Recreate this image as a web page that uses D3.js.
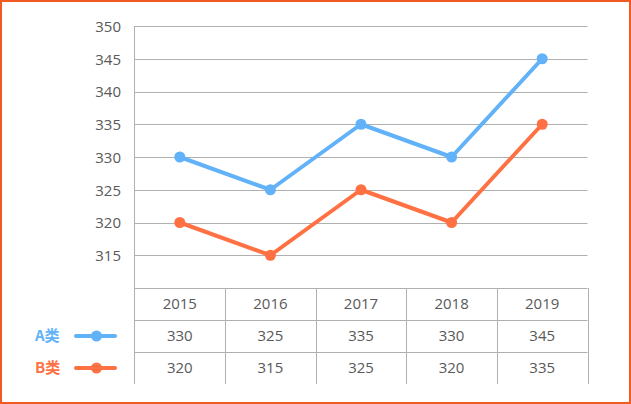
<!DOCTYPE html>
<html><head><meta charset="utf-8">
<script src="https://cdn.jsdelivr.net/npm/d3@7"></script>
<style>
html,body{margin:0;padding:0;background:#fff;}
svg{display:block;}
</style>
</head><body>
<svg id="c" width="631" height="404"></svg>
<script>
const years = ["2015","2016","2017","2018","2019"];
const seriesNames = ["A类","B类"];
const seriesA = [330,325,335,330,345];
const seriesB = [320,315,325,320,335];
const yTicks = [315,320,325,330,335,340,345,350];
const colors = ["#62b2f9","#ff7142"];

(function(){
const svg = d3.select("#c");
const W=631,H=404;
svg.append("rect").attr("x",1).attr("y",1).attr("width",W-2).attr("height",H-2)
  .attr("fill","#fff").attr("stroke","#f25a24").attr("stroke-width",2);

const pL=134.5,pR=587.5,pT=26,pB=288;
const rowH=32;
const x = d3.scaleBand().domain(years).range([pL,pR]);
const y = d3.scaleLinear().domain([310,350]).range([pB,pT]);
const grid="#b0b0b0", txt="#595959";
const font="'Open Sans', 'Noto Sans', sans-serif";

// gridlines
svg.append("g").selectAll("line").data(yTicks).join("line")
  .attr("x1",pL).attr("x2",pR).attr("y1",d=>Math.round(y(d))+0.5).attr("y2",d=>Math.round(y(d))+0.5)
  .attr("stroke",grid).attr("stroke-width",1);

// y axis labels
const yAxis = d3.axisLeft(y).tickValues(yTicks).tickSize(0).tickPadding(0);
const ga = svg.append("g").attr("transform",`translate(121,0)`).call(yAxis);
ga.select(".domain").remove();
ga.selectAll("text").attr("font-family",font).attr("font-size",15).attr("fill",txt).attr("dy","0.35em");

// left axis line
svg.append("line").attr("x1",pL).attr("x2",pL).attr("y1",pT).attr("y2",pB+3*rowH)
  .attr("stroke",grid);

// table horizontal lines
const rowYs=[pB, pB+rowH, pB+2*rowH];
svg.append("g").selectAll("line").data(rowYs).join("line")
  .attr("x1",pL).attr("x2",pR).attr("y1",d=>d+0.5).attr("y2",d=>d+0.5).attr("stroke",grid);
// table vertical lines
const colXs = years.map(d=>x(d)).concat([x.range()[1]]);
svg.append("g").selectAll("line").data(colXs.slice(1)).join("line")
  .attr("x1",d=>Math.round(d)+0.5).attr("x2",d=>Math.round(d)+0.5).attr("y1",pB).attr("y2",pB+3*rowH)
  .attr("stroke",grid);

// table text
const cx = d=>x(d)+x.bandwidth()/2;
const rows=[years, seriesA, seriesB];
rows.forEach((r,i)=>{
  svg.append("g").selectAll("text").data(r).join("text")
    .attr("x",(d,j)=>cx(years[j])).attr("y",pB+rowH*i+rowH/2)
    .attr("dy","0.36em").attr("text-anchor","middle")
    .attr("font-family",font).attr("font-size",15).attr("fill",txt).text(d=>d);
});

// lines
const line = d3.line().x((d,i)=>cx(years[i])).y(d=>y(d));
[seriesA,seriesB].forEach((s,k)=>{
  svg.append("path").datum(s).attr("d",line).attr("fill","none")
    .attr("stroke",colors[k]).attr("stroke-width",4).attr("stroke-linejoin","round").attr("stroke-linecap","round");
  svg.append("g").selectAll("circle").data(s).join("circle")
    .attr("cx",(d,i)=>cx(years[i])).attr("cy",d=>y(d)).attr("r",5.5).attr("fill",colors[k]);
});

// legend
seriesNames.forEach((n,k)=>{
  const ly = pB+rowH*(k+1)+rowH/2;
  svg.append("text").attr("x",35).attr("y",ly).attr("dy","0.36em")
    .attr("font-family","'Noto Sans CJK SC', sans-serif").attr("font-weight","bold")
    .attr("font-size",15).attr("fill",colors[k]).text(n);
  svg.append("line").attr("x1",76).attr("x2",115).attr("y1",ly).attr("y2",ly)
    .attr("stroke",colors[k]).attr("stroke-width",4).attr("stroke-linecap","round");
  svg.append("circle").attr("cx",96.5).attr("cy",ly).attr("r",5.5).attr("fill",colors[k]);
});
})();
</script>
</body></html>
